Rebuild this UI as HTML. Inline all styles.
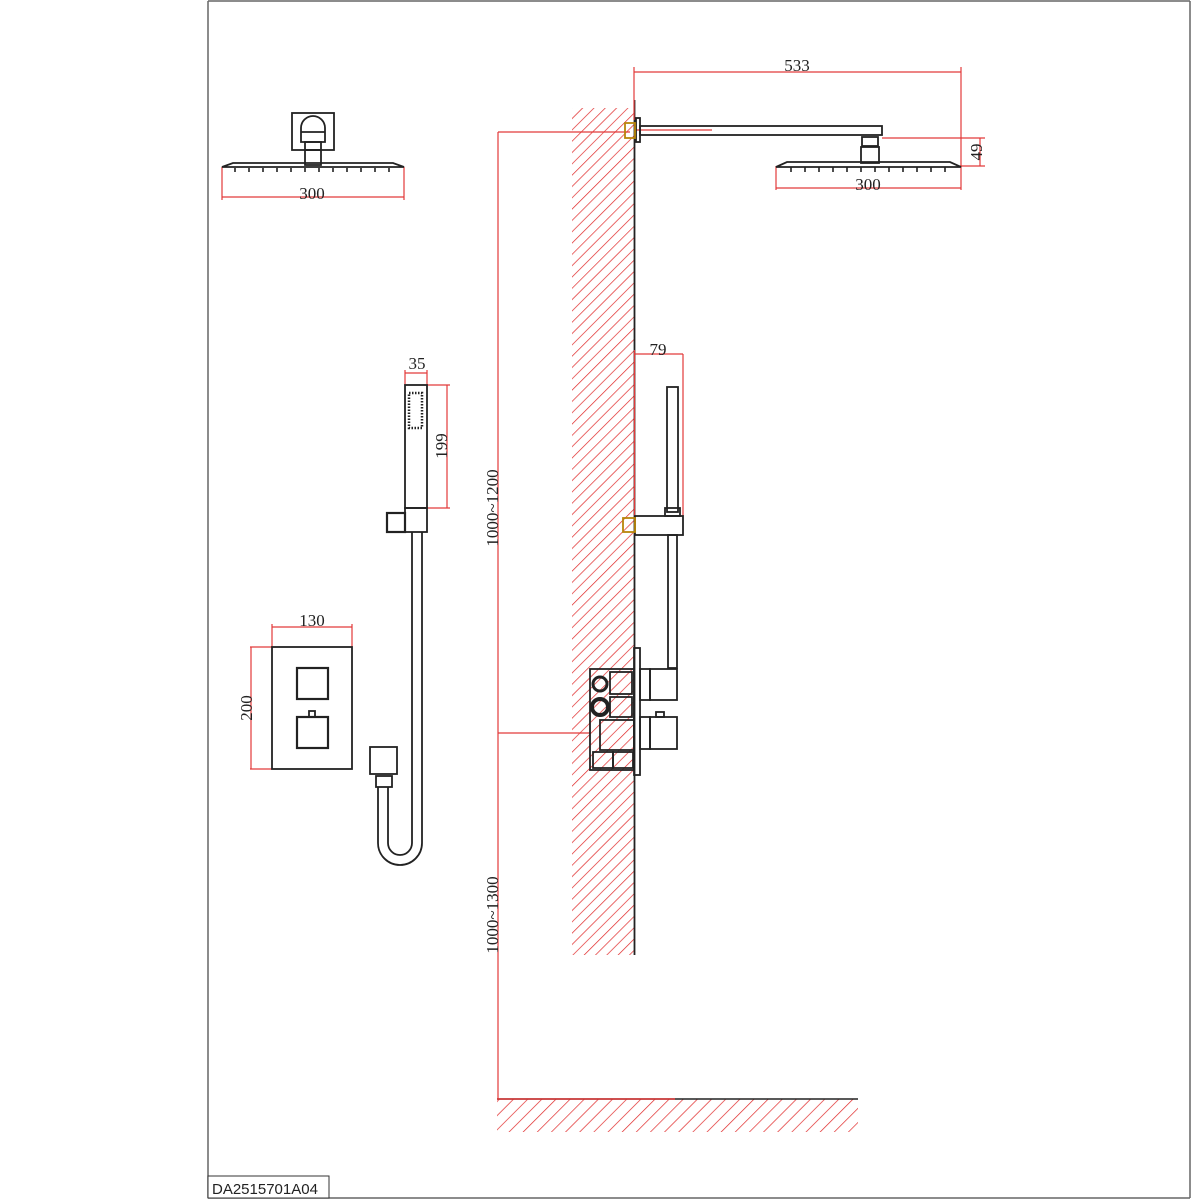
<!DOCTYPE html>
<html><head><meta charset="utf-8"><style>
html,body{margin:0;padding:0;background:#fff;}
svg{display:block;}
text{font-family:"Liberation Serif",serif;fill:#222;}
</style></head><body>
<svg width="1200" height="1200" viewBox="0 0 1200 1200" xmlns="http://www.w3.org/2000/svg">
<defs>
<pattern id="hw" width="8" height="8" patternUnits="userSpaceOnUse" patternTransform="rotate(45)">
<line x1="0" y1="0" x2="0" y2="8" stroke="#e02828" stroke-width="1.4"/>
</pattern>
<pattern id="hf" width="10" height="10" patternUnits="userSpaceOnUse" patternTransform="rotate(45)">
<line x1="0" y1="0" x2="0" y2="10" stroke="#e02828" stroke-width="1.4"/>
</pattern>
</defs>
<rect width="1200" height="1200" fill="#fff"/>
<g fill="none" stroke="#666" stroke-width="1.5">
<line x1="208" y1="1" x2="1190" y2="1"/>
<line x1="208" y1="1" x2="208" y2="1198"/>
<line x1="1190" y1="1" x2="1190" y2="1198"/>
<line x1="208" y1="1198" x2="1190" y2="1198"/>
</g>
<rect x="208" y="1176" width="121" height="22" fill="#fff" stroke="#333" stroke-width="1"/>
<text x="212" y="1194" style="font-family:'Liberation Sans',sans-serif;font-size:15px" fill="#000">DA2515701A04</text>

<rect x="572" y="108" width="62" height="847" fill="url(#hw)"/>
<line x1="634.5" y1="100" x2="634.5" y2="955" stroke="#222" stroke-width="1.8"/>
<rect x="497" y="1099" width="361" height="33" fill="url(#hf)"/>
<line x1="497" y1="1099" x2="858" y2="1099" stroke="#222" stroke-width="1.4"/>
<line x1="497" y1="1099" x2="675" y2="1099" stroke="#e23a3a" stroke-width="1.4"/>

<g fill="none" stroke="#e23a3a" stroke-width="1.2">
<line x1="222" y1="167" x2="222" y2="200"/><line x1="404" y1="167" x2="404" y2="200"/>
<line x1="222" y1="197" x2="404" y2="197"/>
<line x1="634" y1="67" x2="634" y2="120"/><line x1="961" y1="67" x2="961" y2="190"/>
<line x1="634" y1="72" x2="961" y2="72"/>
<line x1="882" y1="138" x2="985" y2="138"/><line x1="960" y1="166" x2="985" y2="166"/>
<line x1="980" y1="138" x2="980" y2="166"/>
<line x1="776" y1="166" x2="776" y2="190"/><line x1="776" y1="188" x2="961" y2="188"/>
<line x1="636" y1="130" x2="712" y2="130"/>
<line x1="498" y1="132" x2="498" y2="1099"/>
<line x1="498" y1="132" x2="630" y2="132"/>
<line x1="498" y1="733" x2="590" y2="733"/>
<line x1="634" y1="354" x2="683" y2="354"/><line x1="683" y1="354" x2="683" y2="516"/>
<line x1="634.5" y1="350" x2="634.5" y2="516"/>
<line x1="405" y1="373" x2="427" y2="373"/><line x1="405" y1="370" x2="405" y2="385"/><line x1="427" y1="370" x2="427" y2="385"/>
<line x1="427" y1="385" x2="450" y2="385"/><line x1="427" y1="508" x2="450" y2="508"/><line x1="447" y1="385" x2="447" y2="508"/>
<line x1="272" y1="627" x2="352" y2="627"/><line x1="272" y1="624" x2="272" y2="647"/><line x1="352" y1="624" x2="352" y2="647"/>
<line x1="250" y1="647" x2="272" y2="647"/><line x1="250" y1="769" x2="272" y2="769"/><line x1="251" y1="647" x2="251" y2="769"/>
</g>

<g font-size="17">
<text x="312" y="199" text-anchor="middle">300</text>
<text x="797" y="71" text-anchor="middle">533</text>
<text x="868" y="190" text-anchor="middle">300</text>
<text x="658" y="355" text-anchor="middle">79</text>
<text x="417" y="369" text-anchor="middle">35</text>
<text x="312" y="626" text-anchor="middle">130</text>
<text transform="translate(982,152) rotate(-90)" text-anchor="middle">49</text>
<text transform="translate(447,446) rotate(-90)" text-anchor="middle">199</text>
<text transform="translate(252,708) rotate(-90)" text-anchor="middle">200</text>
<text transform="translate(498,508) rotate(-90)" text-anchor="middle">1000~1200</text>
<text transform="translate(498,915) rotate(-90)" text-anchor="middle">1000~1300</text>
</g>

<g fill="none" stroke="#222" stroke-width="1.8">
<rect x="292" y="113" width="42" height="37"/>
<path d="M301 142 v-14 a12 12 0 0 1 24 0 v14 z"/>
<line x1="301" y1="132" x2="325" y2="132"/>
<rect x="305" y="142" width="16" height="8"/>
<rect x="305" y="150" width="16" height="15"/>
<path d="M222 167 L233 163 L393 163 L404 167 Z"/>
<g stroke-width="1.6"><line x1="235" y1="168" x2="235" y2="172"/><line x1="249" y1="168" x2="249" y2="172"/><line x1="263" y1="168" x2="263" y2="172"/><line x1="277" y1="168" x2="277" y2="172"/><line x1="291" y1="168" x2="291" y2="172"/><line x1="305" y1="168" x2="305" y2="172"/><line x1="319" y1="168" x2="319" y2="172"/><line x1="333" y1="168" x2="333" y2="172"/><line x1="347" y1="168" x2="347" y2="172"/><line x1="361" y1="168" x2="361" y2="172"/><line x1="375" y1="168" x2="375" y2="172"/><line x1="389" y1="168" x2="389" y2="172"/></g>

<rect x="636" y="118" width="4" height="24"/>
<rect x="625" y="123" width="10" height="15" stroke="#b8860b"/>
<rect x="640" y="126" width="242" height="9"/>
<rect x="862" y="137" width="16" height="9"/>
<rect x="861" y="147" width="18" height="16"/>
<path d="M776 167 L787 162 L950 162 L961 167 Z"/>
<g stroke-width="1.6"><line x1="791" y1="167" x2="791" y2="172"/><line x1="805" y1="167" x2="805" y2="172"/><line x1="819" y1="167" x2="819" y2="172"/><line x1="833" y1="167" x2="833" y2="172"/><line x1="847" y1="167" x2="847" y2="172"/><line x1="861" y1="167" x2="861" y2="172"/><line x1="875" y1="167" x2="875" y2="172"/><line x1="889" y1="167" x2="889" y2="172"/><line x1="903" y1="167" x2="903" y2="172"/><line x1="917" y1="167" x2="917" y2="172"/><line x1="931" y1="167" x2="931" y2="172"/><line x1="945" y1="167" x2="945" y2="172"/></g>

<rect x="405" y="385" width="22" height="123"/>
<rect x="409" y="393" width="13" height="35" stroke-width="2.5" stroke-dasharray="1.5 1.5"/>
<rect x="405" y="508" width="22" height="24"/>
<rect x="387" y="513" width="18" height="19" stroke-width="2.2"/>
<path d="M412 532 V843 a12 12 0 0 1 -24 0 V787"/>
<path d="M422 532 V843 a22 22 0 0 1 -44 0 V787"/>
<rect x="370" y="747" width="27" height="27"/>
<rect x="376" y="776" width="16" height="11"/>
<rect x="272" y="647" width="80" height="122"/>
<rect x="297" y="668" width="31" height="31" stroke-width="2.2"/>
<rect x="297" y="717" width="31" height="31" stroke-width="2.2"/>
<rect x="309" y="711" width="6" height="6"/>

<rect x="667" y="387" width="11" height="125"/>
<rect x="665" y="508" width="15" height="8"/>
<rect x="635" y="516" width="48" height="19"/>
<rect x="623" y="518" width="12" height="14" stroke="#b8860b"/>
<rect x="668" y="535" width="9" height="133"/>
<rect x="590" y="669" width="44" height="101"/>
<rect x="634" y="648" width="6" height="127"/>
<rect x="650" y="669" width="27" height="31"/>
<rect x="640" y="669" width="10" height="31"/>
<rect x="650" y="717" width="27" height="32"/>
<rect x="640" y="717" width="10" height="32"/>
<rect x="656" y="712" width="8" height="5"/>
<circle cx="600" cy="684" r="7" stroke-width="3"/>
<circle cx="600" cy="707" r="8" stroke-width="4"/>
<rect x="610" y="672" width="22" height="22"/>
<rect x="610" y="697" width="22" height="20"/>
<rect x="600" y="720" width="34" height="30"/>
<rect x="593" y="752" width="20" height="16"/>
<rect x="613" y="752" width="20" height="16"/>
</g>
</svg>
</body></html>
